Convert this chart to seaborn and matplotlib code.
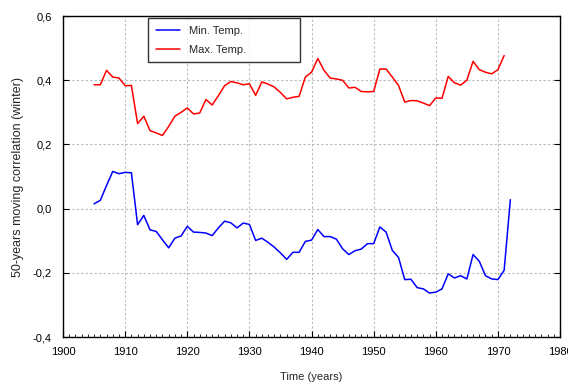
import numpy as np
import pandas as pd
import matplotlib.pyplot as plt
import matplotlib.ticker as mticker
import seaborn as sns

years_max = list(range(1905, 1972))
max_temp = [0.386, 0.386, 0.431, 0.410, 0.407, 0.383, 0.384, 0.265, 0.288, 0.243,
            0.236, 0.228, 0.256, 0.288, 0.300, 0.314, 0.295, 0.298, 0.340, 0.323,
            0.352, 0.383, 0.396, 0.392, 0.386, 0.389, 0.353, 0.395, 0.388, 0.379,
            0.362, 0.342, 0.347, 0.350, 0.410, 0.425, 0.468, 0.431, 0.407, 0.404,
            0.400, 0.376, 0.378, 0.365, 0.364, 0.365, 0.435, 0.435, 0.410, 0.384,
            0.332, 0.337, 0.336, 0.329, 0.321, 0.345, 0.344, 0.412, 0.392, 0.385,
            0.400, 0.459, 0.433, 0.425, 0.420, 0.433, 0.477]

years_min = list(range(1905, 1973))
min_temp = [0.015, 0.026, 0.072, 0.116, 0.109, 0.113, 0.112, -0.050, -0.021, -0.066,
            -0.071, -0.097, -0.122, -0.092, -0.085, -0.055, -0.073, -0.074, -0.076, -0.084,
            -0.060, -0.039, -0.044, -0.060, -0.045, -0.049, -0.099, -0.092, -0.105, -0.120,
            -0.138, -0.158, -0.136, -0.136, -0.102, -0.098, -0.065, -0.087, -0.087, -0.095,
            -0.125, -0.143, -0.131, -0.126, -0.109, -0.109, -0.057, -0.073, -0.130, -0.152,
            -0.221, -0.220, -0.246, -0.250, -0.263, -0.260, -0.250, -0.203, -0.216, -0.209,
            -0.219, -0.143, -0.164, -0.209, -0.219, -0.221, -0.192, 0.028]

df = pd.concat([
    pd.DataFrame({"year": years_min, "corr": min_temp, "series": "Min. Temp."}),
    pd.DataFrame({"year": years_max, "corr": max_temp, "series": "Max. Temp."}),
])

sns.set_style("white")
plt.rcParams['font.family'] = ['Liberation Sans', 'DejaVu Sans']

fig, ax = plt.subplots(figsize=(5.68, 3.83), dpi=100)
fig.subplots_adjust(left=0.111, right=0.986, top=0.958, bottom=0.12)

sns.lineplot(data=df, x="year", y="corr", hue="series",
             palette={"Min. Temp.": "#0000ff", "Max. Temp.": "#ff0000"},
             linewidth=1.1, ax=ax)

ax.set_xlim(1900, 1980)
ax.set_ylim(-0.4, 0.6)
ax.xaxis.set_major_locator(mticker.MultipleLocator(10))
ax.xaxis.set_minor_locator(mticker.MultipleLocator(1))
ax.yaxis.set_major_locator(mticker.MultipleLocator(0.2))
ax.yaxis.set_major_formatter(mticker.FuncFormatter(lambda v, p: f"{v:.1f}".replace(".", ",")))

ax.grid(True, which="major", color="#b8b8b8", linestyle=(0, (2, 2)), linewidth=0.8)
ax.tick_params(which="both", direction="in", labelsize=8, colors="black",
               right=True, left=True, bottom=True, top=False)
ax.tick_params(which="major", length=4, width=0.8)
ax.tick_params(axis="y", which="major", pad=8)
ax.tick_params(axis="x", which="major", pad=7)
ax.tick_params(which="minor", length=2.5, width=0.6, left=False, right=False)
for s in ax.spines.values():
    s.set_color("black")
    s.set_linewidth(1.0)

ax.set_xlabel("Time (years)", fontsize=8, labelpad=11)
ax.set_ylabel("50-years moving correlation (winter)", fontsize=9, labelpad=6)

leg = ax.legend(loc="upper left", bbox_to_anchor=(0.171, 0.0, 0.306, 0.994),
                mode="expand", fontsize=8, frameon=True, fancybox=False,
                borderpad=0.7, handlelength=2.2, labelspacing=0.8, borderaxespad=0)
leg.get_frame().set_edgecolor("black")
leg.get_frame().set_linewidth(1.0)

fig.savefig("out.png", dpi=100)
